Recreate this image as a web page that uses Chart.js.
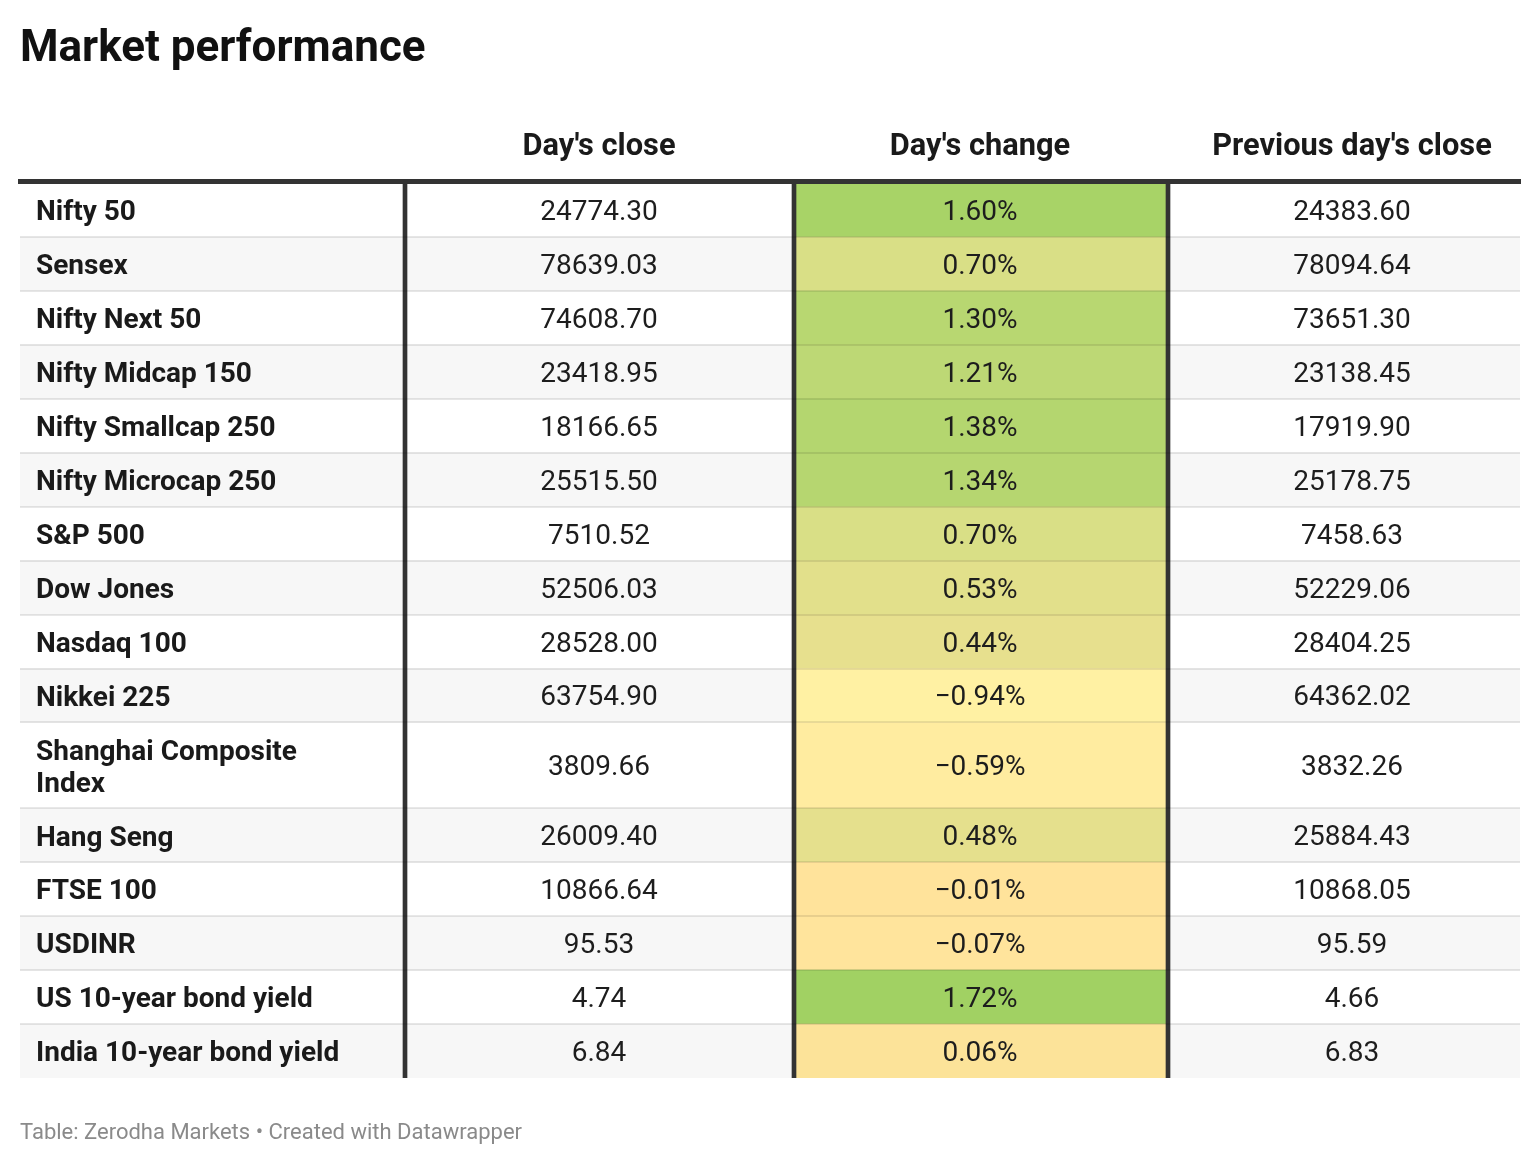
<!DOCTYPE html>
<html lang="en">
<head>
<meta charset="utf-8">
<title>Market performance</title>
<script src="https://cdn.jsdelivr.net/npm/chart.js@4.4.1/dist/chart.umd.min.js"></script>
<style>
  html, body { margin: 0; padding: 0; background: #fff; }
  body { width: 1540px; height: 1164px; position: relative; overflow: hidden; font-family: Roboto, "Noto Sans", sans-serif; }
  .tabla { position: absolute; left: 0; top: 0; width: 1540px; height: 1164px; }
  h1 { position: absolute; left: 20px; top: 24px; margin: 0; font-size: 44px; line-height: 1; font-weight: 700; color: #111; }
  .fuente { position: absolute; left: 20px; top: 1121px; font-size: 22px; line-height: 1; color: #8a8a8a; }
</style>
</head>
<body>
<div class="tabla"><canvas id="chart1"></canvas></div>
<h1>Market performance</h1>
<div class="fuente">Table: Zerodha Markets • Created with Datawrapper</div>
<script>
// data
var indices = ['Nifty 50', 'Sensex', 'Nifty Next 50', 'Nifty Midcap 150', 'Nifty Smallcap 250',
  'Nifty Microcap 250', 'S&P 500', 'Dow Jones', 'Nasdaq 100', 'Nikkei 225',
  ['Shanghai Composite', 'Index'], 'Hang Seng', 'FTSE 100', 'USDINR',
  'US 10-year bond yield', 'India 10-year bond yield'];
var dayClose = [24774.30, 78639.03, 74608.70, 23418.95, 18166.65, 25515.50, 7510.52, 52506.03,
  28528.00, 63754.90, 3809.66, 26009.40, 10866.64, 95.53, 4.74, 6.84];
var dayChange = [1.60, 0.70, 1.30, 1.21, 1.38, 1.34, 0.70, 0.53, 0.44, -0.94, -0.59, 0.48,
  -0.01, -0.07, 1.72, 0.06];
var prevClose = [24383.60, 78094.64, 73651.30, 23138.45, 17919.90, 25178.75, 7458.63, 52229.06,
  28404.25, 64362.02, 3832.26, 25884.43, 10868.05, 95.59, 4.66, 6.83];
var headers = ["Day's close", "Day's change", "Previous day's close"];

// table layout, x axis units = px
var colEdges = [20, 405, 794, 1168, 1520];
var colCenters = [599, 980, 1352];
var extraLine = 32 / 54;
var labelNudge = 0.06;   // bold labels sit a little low in their row
var ruleGap = 0.04;      // room under the thick header rule

// color scale for the change column
var escala = [[-0.94, [255, 241, 163]], [0, [255, 227, 155]], [0.7, [217, 223, 134]], [1.72, [161, 209, 99]]];
function colorCambio(v) {
  if (v <= escala[0][0]) return 'rgb(' + escala[0][1].join(',') + ')';
  for (var k = 1; k < escala.length; k++) {
    if (v <= escala[k][0]) {
      var a = escala[k - 1], b = escala[k];
      var t = (v - a[0]) / (b[0] - a[0]);
      return 'rgb(' + a[1].map(function(c, i){ return Math.round(c + (b[1][i] - c) * t); }).join(',') + ')';
    }
  }
  return 'rgb(' + escala[escala.length - 1][1].join(',') + ')';
}
function fmt(v) { return v.toFixed(2); }
function pct(v) { return (v < 0 ? '\u2212' : '') + Math.abs(v).toFixed(2) + '%'; }

// rows, two-line labels get a taller row
var rowTop = [], rowBottom = [], rowMid = [];
var acc = 0;
indices.forEach(function(lab){
  var lines = Array.isArray(lab) ? lab.length : 1;
  rowTop.push(acc);
  acc += 1 + (lines - 1) * extraLine;
  rowBottom.push(acc);
  rowMid.push((rowTop[rowTop.length - 1] + acc) / 2);
});
var totalRows = acc;

var stripes = [];
indices.forEach(function(lab, i){
  if (i % 2 == 1) stripes.push({x: (colEdges[0] + colEdges[4]) / 2, y: [rowTop[i], rowBottom[i]]});
});

// texto de las celdas
var celdas = {
  id: 'celdas',
  afterDraw: function(chart) {
    var ctx = chart.ctx, x = chart.scales.x, y = chart.scales.y;
    var cols = [dayClose.map(fmt), dayChange.map(pct), prevClose.map(fmt)];
    ctx.save();
    ctx.font = '400 28px Roboto';
    ctx.fillStyle = '#1d1d1d';
    ctx.textAlign = 'center';
    ctx.textBaseline = 'alphabetic';
    cols.forEach(function(col, j){
      col.forEach(function(t, i){
        ctx.fillText(t, x.getPixelForValue(colCenters[j]), y.getPixelForValue(rowMid[i]) + 10);
      });
    });
    ctx.restore();
  }
};

var chart1 = new Chart(document.getElementById('chart1'), {
  type: 'bar',
  data: {
    datasets: [
      {
        label: 'separators',
        data: colEdges.slice(1, 4).map(function(v){ return {x: v, y: [0, totalRows]}; }),
        backgroundColor: '#333333',
        barThickness: 4,
        grouped: false,
        order: 1
      },
      {
        label: "Day's change",
        data: dayChange.map(function(v, i){ return {x: (colEdges[2] + colEdges[3]) / 2, y: [rowTop[i], rowBottom[i]]}; }),
        backgroundColor: dayChange.map(colorCambio),
        barThickness: colEdges[3] - colEdges[2],
        grouped: false,
        order: 2
      },
      {
        label: 'stripes',
        data: stripes,
        backgroundColor: '#f7f7f7',
        barThickness: colEdges[4] - colEdges[0],
        grouped: false,
        order: 3
      }
    ]
  },
  options: {
    responsive: true,
    maintainAspectRatio: false,
    animation: false,
    layout: { padding: { top: 100, left: 20, right: 20, bottom: 86 } },
    plugins: { legend: { display: false }, tooltip: { enabled: false } },
    scales: {
      x: {
        type: 'linear',
        position: 'top',
        min: colEdges[0],
        max: colEdges[4],
        offset: false,
        afterBuildTicks: function(s){ s.ticks = colCenters.map(function(v){ return {value: v}; }); },
        afterFit: function(s){ s.height = 81; },
        ticks: {
          autoSkip: false,
          maxRotation: 0,
          padding: 15,
          color: '#1a1a1a',
          font: { family: 'Roboto', size: 30.8, weight: '700' },
          callback: function(v, i){ return headers[i]; }
        },
        grid: { display: false, drawTicks: false, offset: false },
        border: { display: true, color: '#333333', width: 5, z: 1 }
      },
      y: {
        type: 'linear',
        position: 'left',
        reverse: true,
        min: -ruleGap,
        max: totalRows,
        afterBuildTicks: function(s){ s.ticks = rowMid.map(function(v){ return {value: v + labelNudge}; }); },
        afterFit: function(s){ s.width = 0; },
        ticks: {
          mirror: true,
          padding: 16,
          autoSkip: false,
          z: 2,
          color: '#1a1a1a',
          font: { family: 'Roboto', size: 28, weight: '700', lineHeight: 1.15 },
          callback: function(v, i){ return indices[i]; }
        },
        grid: { display: false, drawTicks: false },
        border: { display: false }
      },
      filas: {
        type: 'linear',
        position: 'left',
        reverse: true,
        min: -ruleGap,
        max: totalRows,
        afterBuildTicks: function(s){ s.ticks = rowBottom.slice(0, -1).map(function(v){ return {value: v}; }); },
        afterFit: function(s){ s.width = 0; },
        ticks: { display: false },
        grid: { color: 'rgba(0,0,0,0.09)', lineWidth: 2, drawTicks: false, z: 1 },
        border: { display: false }
      }
    }
  },
  plugins: [celdas]
});
</script>
</body>
</html>
